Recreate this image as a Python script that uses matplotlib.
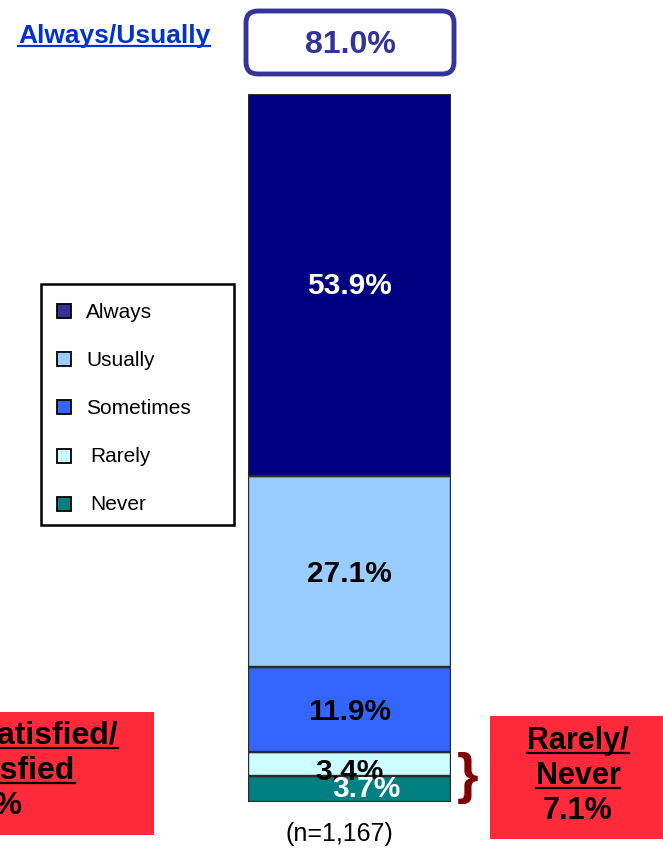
import matplotlib
matplotlib.use("Agg")
import matplotlib.pyplot as plt
from matplotlib.patches import Rectangle, FancyBboxPatch
from matplotlib.lines import Line2D

plt.rcParams['font.family'] = ['Liberation Sans', 'DejaVu Sans']

# ---- data ----
categories = ["Always", "Usually", "Sometimes", "Rarely", "Never"]
values = [53.9, 27.1, 11.9, 3.4, 3.7]
bar_colors = ["#000080", "#99CCFF", "#3366FF", "#CCFFFF", "#008080"]
legend_colors = ["#333399", "#99CCFF", "#3366FF", "#CCFFFF", "#008080"]
label_colors = ["white", "black", "black", "black", "white"]
top_label = "Always/Usually"
top_value = "81.0%"
right_lines = ["Rarely/", "Never", "7.1%"]
left_lines = ["Very Dissatisfied/", "Dissatisfied", "8.0%"]
n_label = "(n=1,167)"

W, H = 663, 851
fig = plt.figure(figsize=(W / 100, H / 100), dpi=100)

# overlay axes in pixel coordinates
ov = fig.add_axes([0, 0, 1, 1])
ov.set_xlim(0, W)
ov.set_ylim(H, 0)
ov.axis("off")

# bar axes
bx0, bx1, by_top, by_bot = 248, 451, 94, 802
ax = fig.add_axes([bx0 / W, (H - by_bot) / H, (bx1 - bx0) / W, (by_bot - by_top) / H])
ax.set_xlim(-0.5, 0.5)
ax.set_ylim(0, 100)
ax.axis("off")

bottom = 0
order = list(range(len(categories)))[::-1]  # Never at bottom
centers = {}
for i in order:
    ax.bar(0, values[i], width=1.0, bottom=bottom, color=bar_colors[i],
           edgecolor="#2a2a2a", linewidth=1.7, zorder=2)
    centers[i] = bottom + values[i] / 2
    bottom += values[i]

offsets = {0: (0, -1), 1: (0, -2), 2: (0, -2), 3: (0, -6), 4: (12, 0)}
for i in range(len(categories)):
    dx, dy = offsets[i]
    ax.annotate(f"{values[i]:.1f}%", (0, centers[i]), xytext=(dx, dy),
                textcoords="offset points", ha="center", va="center",
                fontsize=21.5, fontweight="bold", color=label_colors[i], zorder=5,
                annotation_clip=False)

# legend box
ov.add_patch(Rectangle((41, 284), 193, 241, fill=False, edgecolor="black", lw=1.8))
ys = [311, 359, 407, 456, 504]
for c, y, name in zip(legend_colors, ys, categories):
    ov.add_patch(Rectangle((57, y - 7), 14, 14, facecolor=c, edgecolor="black", lw=1.3))
    ov.text(86 if name not in ("Rarely", "Never") else 90, y + 1, name, fontsize=15,
            va="center", ha="left", color="black")

# top label and box
t_top = ov.text(18, 36, top_label, fontsize=19, fontweight="bold", color="#0033CC",
                ha="left", va="center")
ov.add_patch(FancyBboxPatch((246, 11), 208, 63,
                            boxstyle="round,pad=0,rounding_size=12",
                            facecolor="white", edgecolor="#333399", lw=3.5))
ov.text(350, 45, top_value, fontsize=23, fontweight="bold", color="#333399",
        ha="center", va="center")

# n label
ov.text(339, 834, n_label, fontsize=18, ha="center", va="center", color="black")

# right red box
red = "#FF2A3A"
ov.add_patch(Rectangle((490, 716), 180, 123, facecolor=red, edgecolor="none"))
rt = []
for txt, y in zip(right_lines, [741, 776, 811]):
    rt.append(ov.text(578, y, txt, fontsize=22, fontweight="bold", ha="center",
                      va="center", color="black"))

# left red box
ov.add_patch(Rectangle((-10, 712), 164, 123, facecolor=red, edgecolor="none"))
lt = []
for txt, x, y in zip(left_lines, [118, 75, 22], [736, 771, 806]):
    lt.append(ov.text(x, y, txt, fontsize=23, fontweight="bold", ha="right",
                      va="center", color="black"))

# brace
ov.text(468, 778, "}", fontsize=40, color="#800000", ha="center", va="center",
        fontweight="bold")

# underlines
fig.canvas.draw()
r = fig.canvas.get_renderer()
inv = ov.transData.inverted()

def underline(t, color, gap=3, lw=1.6):
    bb = t.get_window_extent(r)
    (x0, y0), (x1, y1) = inv.transform([(bb.x0, bb.y0), (bb.x1, bb.y1)])
    yb = max(y0, y1) - gap
    ov.add_line(Line2D([x0, x1], [yb, yb], color=color, lw=lw))

underline(t_top, "#0033CC", gap=2)
underline(rt[0], "black", gap=3)
underline(rt[1], "black", gap=3)
underline(lt[0], "black", gap=3)
underline(lt[1], "black", gap=3)

fig.savefig("out.png", dpi=100)
